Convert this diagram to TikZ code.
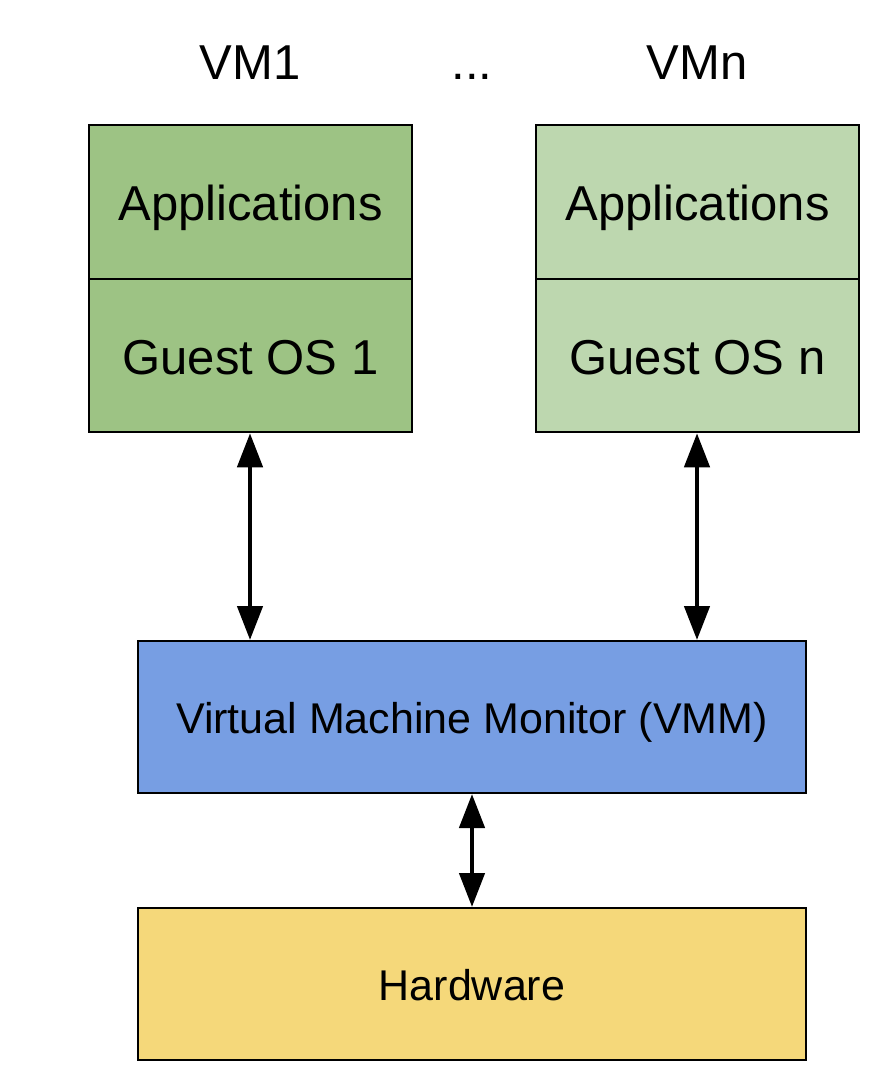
\documentclass[tikz,border=0pt]{standalone}
\usepackage{fontspec}
\setmainfont{Liberation Sans}
\usetikzlibrary{arrows.meta}
\definecolor{greenA}{HTML}{9DC384}
\definecolor{greenB}{HTML}{BDD7AF}
\definecolor{vmmblue}{HTML}{779EE3}
\definecolor{hwyellow}{HTML}{F5D87A}
\begin{document}
\begin{tikzpicture}[x=1pt,y=-1pt,
  box/.style={draw=black,line width=2pt,inner sep=0pt,text depth=0pt},
  layer/.style={box,minimum width=323pt,minimum height=153.5pt,text height=37.5pt,font=\fontsize{49}{58}\selectfont},
  wide/.style={box,minimum width=668pt,minimum height=152pt,text height=33pt,font=\fontsize{43}{52}\selectfont},
  title/.style={inner sep=0pt,anchor=base,font=\fontsize{49}{58}\selectfont},
  link/.style={line width=4.5pt,{Triangle[width=25pt,length=34pt]}-{Triangle[width=25pt,length=34pt]}}]
\useasboundingbox (0,0) rectangle (890,1066);
\node[title] (vm1) at (250,79) {VM1};
\node[title] (dots) at (472,79) {...};
\node[title] (vmn) at (697,79) {VMn};
\node[layer,fill=greenA] (app1) at (250.5,202) {Applications};
\node[layer,fill=greenA] (os1) at (250.5,355.5) {Guest OS 1};
\node[layer,fill=greenB] (appn) at (697.5,202) {Applications};
\node[layer,fill=greenB] (osn) at (697.5,355.5) {Guest OS n};
\node[wide,fill=vmmblue] (vmm) at (472,717) {Virtual Machine Monitor (VMM)};
\node[wide,fill=hwyellow] (hw) at (472,984) {Hardware};
\draw[link] (os1.south -| 250,0) -- (vmm.north -| 250,0);
\draw[link] (osn.south -| 697,0) -- (vmm.north -| 697,0);
\draw[link] (vmm.south) -- (hw.north);
\end{tikzpicture}
\end{document}
